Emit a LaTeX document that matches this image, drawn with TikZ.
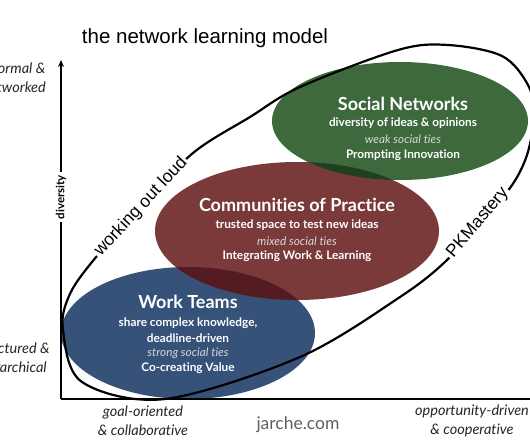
\documentclass[tikz,border=0pt]{standalone}
\usepackage{fontspec}
\setmainfont{Lato}[Ligatures={NoCommon}]
\newfontfamily\helv{Liberation Sans}
\usetikzlibrary{arrows.meta}
\definecolor{wtblue}{RGB}{54,82,121}
\definecolor{copred}{RGB}{123,58,58}
\definecolor{sngreen}{RGB}{61,105,61}
\definecolor{ovbr}{RGB}{84,28,34}
\definecolor{ovrg}{RGB}{32,64,32}
\definecolor{lightit}{RGB}{215,215,215}
\definecolor{jgray}{RGB}{95,95,95}
\tikzset{
  ttl/.style={font=\fontsize{18}{20}\selectfont\bfseries, text=white, inner sep=0pt},
  sub/.style={font=\fontsize{11.8}{13}\selectfont\bfseries, text=white, inner sep=0pt},
  ital/.style={font=\fontsize{11.8}{13}\selectfont\itshape, text=lightit, inner sep=0pt},
  axlab/.style={font=\fontsize{14.5}{19}\selectfont\itshape, text=black!85, align=center, inner sep=0pt},
  curvelab/.style={font=\helv\fontsize{17.5}{19}\selectfont, fill=white, inner sep=2pt},
  axis/.style={line width=1.8pt},
}
\begin{document}
\begin{tikzpicture}[x=1pt,y=-1pt]
\useasboundingbox (0,0) rectangle (530,442);
\clip (0,0) rectangle (530,442);
% ellipses
\fill[wtblue] (188,333) ellipse [x radius=127pt, y radius=66pt];
\fill[copred] (297,231) ellipse [x radius=142pt, y radius=69pt];
\fill[sngreen] (400,121) ellipse [x radius=128pt, y radius=59pt];
\begin{scope}
  \clip (188,333) ellipse [x radius=127pt, y radius=66pt];
  \fill[ovbr] (297,231) ellipse [x radius=142pt, y radius=69pt];
\end{scope}
\begin{scope}
  \clip (297,231) ellipse [x radius=142pt, y radius=69pt];
  \fill[ovrg] (400,121) ellipse [x radius=128pt, y radius=59pt];
\end{scope}
% axes
\coordinate (origin) at (61,399);
\coordinate (ytop) at (61,60);
\coordinate (xend) at (535,399);
\draw[axis,-{Stealth[length=7pt,width=6pt]}] (origin) -- (ytop);
\draw[axis] (origin) -- (xend);
\node[fill=white, rotate=90, inner sep=3pt, font=\fontsize{11.5}{12}\selectfont\bfseries] (div) at (61,197) {diversity};
% outer loop
\draw[line width=2.2pt] plot[smooth cycle, tension=0.55] coordinates {
 (63,330) (82,382) (165,399) (300,357) (400,297) (447,260) (478,222) (510,188)
 (527,155) (534,115) (528,85) (502,56) (448,45) (398,50) (300,87) (250,117)
 (193,153) (141,207) (92,262) (69,296)};
\node[curvelab, rotate=47] (wol) at (141,207) {working out loud};
\node[curvelab, rotate=50] (pkm) at (478,223) {PKMastery};
% title
\node[font=\helv\fontsize{20.5}{22}\selectfont, inner sep=0pt] (title) at (205,38) {the network learning model};
% social networks
\node[ttl] (sn1) at (403,104) {Social Networks};
\node[sub] (sn2) at (403,123) {diversity of ideas \& opinions};
\node[ital] (sn3) at (403,139) {weak social ties};
\node[sub] (sn4) at (403,155) {Prompting Innovation};
% communities of practice
\node[ttl] (cp1) at (297,205) {Communities of Practice};
\node[sub] (cp2) at (297,225) {trusted space to test new ideas};
\node[ital] (cp3) at (297,241) {mixed social ties};
\node[sub] (cp4) at (297,256) {Integrating Work \& Learning};
% work teams
\node[ttl] (wt1) at (188,302) {Work Teams};
\node[sub] (wt2) at (188,323) {share complex knowledge,};
\node[sub] (wt3) at (188,338) {deadline-driven};
\node[ital] (wt4) at (188,353) {strong social ties};
\node[sub] (wt5) at (188,368) {Co-creating Value};
% axis labels
\node[axlab] (inf) at (14,78) {informal \&\\networked};
\node[axlab] (str) at (12,358) {structured \&\\hierarchical};
\node[axlab] (goal) at (143,421) {goal-oriented\\\& collaborative};
\node[axlab] (opp) at (472,421) {opportunity-driven\\\& cooperative};
\node[font=\fontsize{17.5}{19}\selectfont, text=jgray, inner sep=0pt] (jar) at (298,425) {jarche.com};
\end{tikzpicture}
\end{document}
